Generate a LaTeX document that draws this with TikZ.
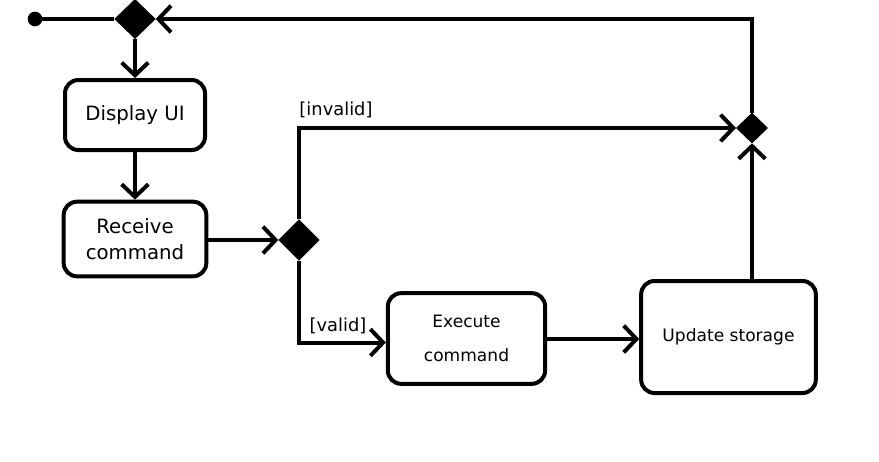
\documentclass[tikz,border=0pt]{standalone}
\usepackage{fontspec}
\setmainfont{DejaVu Sans}
\usetikzlibrary{arrows.meta,shapes.geometric}
\begin{document}
\begin{tikzpicture}[x=0.75pt,y=-0.75pt,
  every path/.style={line width=3pt},
  box/.style={draw,rounded corners=10pt,align=center,inner sep=0pt,line width=3pt},
  bigtxt/.style={font=\fontsize{14.8pt}{20pt}\selectfont},
  smalltxt/.style={font=\fontsize{12.8pt}{25.5pt}\selectfont},
  lbl/.style={font=\fontsize{13.4pt}{16pt}\selectfont,inner sep=0pt},
  dia/.style={diamond,fill=black,inner sep=0pt,outer sep=0pt},
  arr/.style={-{Straight Barb[length=9.5pt,width=20pt]}}
]
\useasboundingbox (0,0) rectangle (879,461);
\node[circle,fill=black,minimum size=11pt,inner sep=0pt,outer sep=0pt] (start) at (35,19) {};
\node[dia,minimum width=31pt,minimum height=30pt] (d1) at (135,19) {};
\node[dia,minimum width=31pt,minimum height=31pt] (d3) at (299,240) {};
\node[dia,minimum width=24pt,minimum height=23pt] (d2) at (752,128) {};
\node[box,bigtxt,minimum width=105pt,minimum height=52.5pt] (disp) at (135,115) {Display UI};
\node[box,bigtxt,minimum width=107pt,minimum height=56pt] (recv) at (135,239) {Receive\\command};
\node[box,smalltxt,minimum width=118pt,minimum height=68pt] (exec) at (466.5,338.5) {Execute\\command};
\node[box,smalltxt,minimum width=131pt,minimum height=84pt] (upd) at (728.5,337) {Update storage};
\draw (start) -- (d1.west);
\draw[arr] (d1.south) -- (disp.north);
\draw[arr] (disp.south) -- (recv.north);
\draw[arr] (recv.east |- d3.west) -- (d3.west);
\draw[arr] (d3.north) |- (d2.west);
\draw[arr] (d3.south) |- ([yshift=-3pt]exec.west);
\draw[arr] (exec.east |- 0,339) -- (upd.west |- 0,339);
\draw[arr] (d2.south |- upd.north) -- (d2.south);
\draw[arr] (d2.north) |- (d1.east);
\node[lbl] (linv) at (336,110) {[invalid]};
\node[lbl] (lval) at (338,326) {[valid]};
\end{tikzpicture}
\end{document}
